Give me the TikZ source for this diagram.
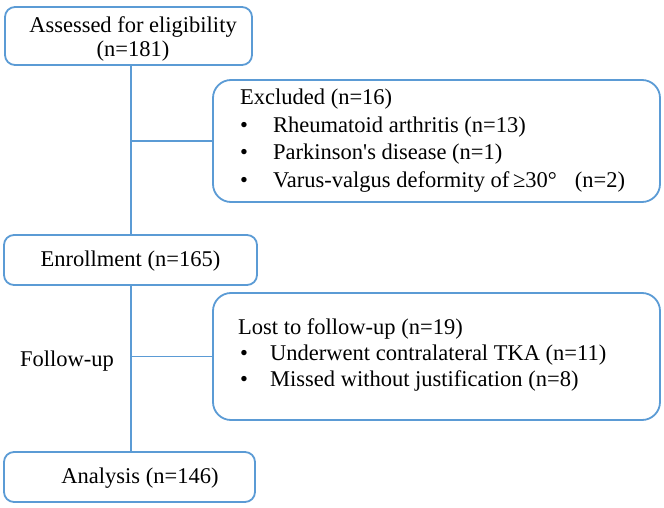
\documentclass[tikz,border=0pt]{standalone}
\usepackage{fontspec}
\setmainfont[Ligatures=NoCommon]{Liberation Serif}
\definecolor{flowblue}{RGB}{91,155,213}
\begin{document}
\begin{tikzpicture}[x=1pt,y=-1pt,
  box/.style={draw=flowblue,line width=1.8pt,rounded corners=#1,inner sep=0pt},
  box/.default=10pt,
  conn/.style={draw=flowblue,line width=1.8pt},
  txt/.style={inner sep=0pt,font=\fontsize{22.5}{27.5}\selectfont},
  bul/.style={txt,anchor=base west}]
\useasboundingbox (0,0) rectangle (664,508);
% boxes
\node[box, minimum width=247pt, minimum height=58pt] (assess) at (128.5,36) {};
\node[box=18pt, minimum width=447pt, minimum height=122pt] (excl) at (436.5,141) {};
\node[box, minimum width=253pt, minimum height=50pt] (enroll) at (130.5,260) {};
\node[box=18pt, minimum width=447pt, minimum height=127pt] (lost) at (436.5,356.5) {};
\node[box, minimum width=251pt, minimum height=50pt] (analysis) at (129.5,477) {};
% texts
\node[txt] (t1) at (133,27) {Assessed for eligibility};
\node[txt] (t2) at (133,51) {(n=181)};
\node[txt] (t3) at (130.5,261) {Enrollment (n=165)};
\node[txt] (t4) at (140,478) {Analysis (n=146)};
\node[txt] (fu) at (67,361) {Follow-up};
\node[bul] (e0) at (240,105) {Excluded (n=16)};
\node[bul] (eb1) at (240,132.5) {\textbullet};
\node[bul] (e1) at (273,132.5) {Rheumatoid arthritis (n=13)};
\node[bul] (eb2) at (240,160) {\textbullet};
\node[bul] (e2) at (273,160) {Parkinson\textquotesingle s disease (n=1)};
\node[bul] (eb3) at (240,187.5) {\textbullet};
\node[bul] (e3) at (273,187.5) {Varus-valgus deformity of\,≥30°\hspace{0.8em}(n=2)};
\node[bul] (l0) at (238,334) {Lost to follow-up (n=19)};
\node[bul] (lb1) at (240,360) {\textbullet};
\node[bul] (l1) at (270,360) {Underwent contralateral TKA (n=11)};
\node[bul] (lb2) at (240,386) {\textbullet};
\node[bul] (l2) at (270,386) {Missed without justification (n=8)};
% connectors
\coordinate (xl) at (131,0);
\draw[conn] (assess.south -| xl) -- (enroll.north -| xl);
\draw[conn] (enroll.south -| xl) -- (analysis.north -| xl);
\draw[conn] (xl |- excl.west) -- (excl.west);
\draw[conn] (xl |- lost.west) -- (lost.west);
\end{tikzpicture}
\end{document}
